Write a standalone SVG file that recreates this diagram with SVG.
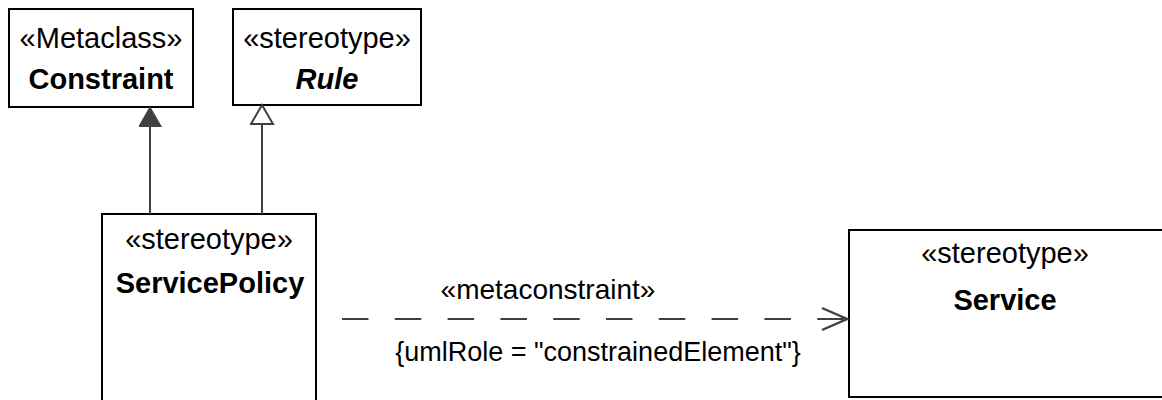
<svg xmlns="http://www.w3.org/2000/svg" width="1162" height="400" viewBox="0 0 1162 400">
<style>
  .box { fill: #ffffff; stroke: #000000; stroke-width: 2; }
  .t { font-family: "Liberation Sans", Arial, sans-serif; font-size: 29px; fill: #000000; text-anchor: middle; }
  .b { font-weight: bold; }
  .i { font-style: italic; }
  .lbl { font-size: 28px; }
  .lbl2 { font-size: 27px; }
  .conn { stroke: #404040; stroke-width: 2; fill: none; }
</style>
<defs>
  <marker id="filled" viewBox="0 0 20 23" refX="20" refY="11.5" markerWidth="20" markerHeight="23" markerUnits="userSpaceOnUse" orient="auto">
    <path d="M0,0 L20,11.5 L0,23 Z" fill="#404040" stroke="#404040" stroke-width="1"/>
  </marker>
  <marker id="hollow" viewBox="-1 -1 22 25" refX="19" refY="11" markerWidth="22" markerHeight="25" markerUnits="userSpaceOnUse" orient="auto">
    <path d="M0,0 L19,11 L0,22 Z" fill="#ffffff" stroke="#404040" stroke-width="2"/>
  </marker>
  <marker id="open" viewBox="0 0 28 26" refX="26" refY="13" markerWidth="28" markerHeight="26" markerUnits="userSpaceOnUse" orient="auto">
    <path d="M1,2 L26,13 L1,24" fill="none" stroke="#404040" stroke-width="2.4"/>
  </marker>
</defs>

<g id="Constraint">
  <rect class="box" x="9" y="9" width="184" height="98"/>
  <text class="t" x="101" y="48">«Metaclass»</text>
  <text class="t b" x="101" y="89">Constraint</text>
</g>

<g id="Rule">
  <rect class="box" x="233" y="9" width="188" height="96"/>
  <text class="t" x="327" y="48">«stereotype»</text>
  <text class="t b i" x="327" y="89">Rule</text>
</g>

<g id="ServicePolicy">
  <rect class="box" x="102" y="214" width="214" height="190"/>
  <text class="t" x="209" y="249">«stereotype»</text>
  <text class="t b" x="210" y="293">ServicePolicy</text>
</g>

<g id="Service">
  <rect class="box" x="849" y="230" width="320" height="167"/>
  <text class="t" x="1005" y="263">«stereotype»</text>
  <text class="t b" x="1005" y="310">Service</text>
</g>

<g id="connectors">
  <line class="conn" x1="150" y1="214" x2="150" y2="107" marker-end="url(#filled)"/>
  <line class="conn" x1="262" y1="214" x2="262" y2="105" marker-end="url(#hollow)"/>
  <line class="conn" x1="342" y1="319" x2="847" y2="319" stroke-dasharray="26.5 26.3" marker-end="url(#open)"/>
  <text class="t lbl" x="548" y="299">«metaconstraint»</text>
  <text class="t lbl2" x="598" y="361">{umlRole = "constrainedElement"}</text>
</g>
</svg>
